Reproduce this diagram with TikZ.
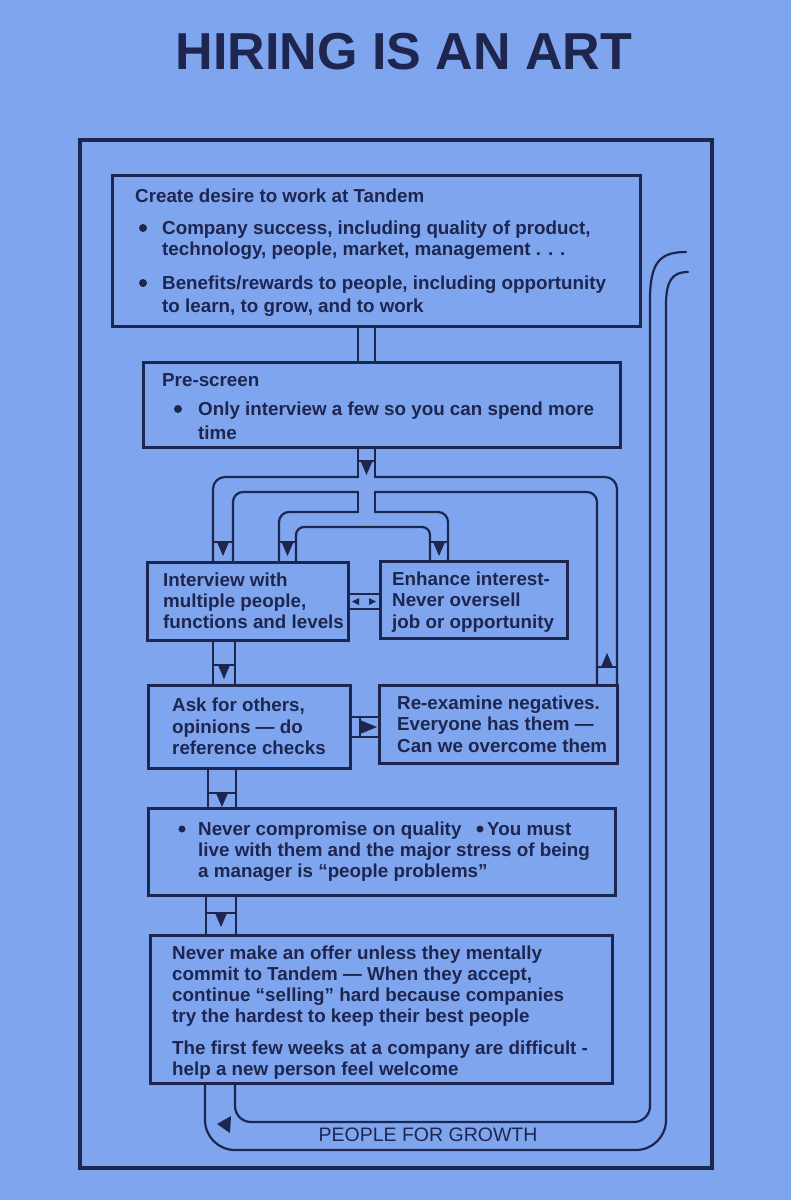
\documentclass[tikz,border=0pt]{standalone}
\usepackage{fontspec}
\newfontfamily\bodyfont{Liberation Sans}
\definecolor{bgc}{RGB}{126,165,238}
\definecolor{inkc}{RGB}{30,38,80}
\tikzset{
  box/.style={draw=inkc, line width=3pt, inner sep=0pt, outer sep=0pt, anchor=north west},
  pipe/.style={draw=inkc, line width=2.2pt, line cap=round},
  txt/.style={text=inkc, font=\bodyfont\bfseries\fontsize{18.8}{21}\selectfont, anchor=base west, inner sep=0pt},
}
\newcommand\pipearrowdown[3]{%
  \draw[pipe] (#1,#3) -- (#2,#3);
  \fill[inkc] ({(#1+#2)/2-6},#3) -- ({(#1+#2)/2+6},#3) -- ({(#1+#2)/2},{#3+14}) -- cycle;}
\newcommand\pipearrowup[3]{%
  \draw[pipe] (#1,#3) -- (#2,#3);
  \fill[inkc] ({(#1+#2)/2-6},#3) -- ({(#1+#2)/2+6},#3) -- ({(#1+#2)/2},{#3-14}) -- cycle;}
\begin{document}
\begin{tikzpicture}[x=1pt,y=-1pt]
\fill[bgc] (0,0) rectangle (791,1200);
\useasboundingbox (0,0) rectangle (791,1200);

% title
\node[text=inkc, font=\bodyfont\bfseries\fontsize{52}{52}\selectfont, anchor=base, inner sep=0pt] (title) at (404,69) {HIRING IS AN ART};

% frame
\node[box, line width=3.2pt, minimum width=632pt, minimum height=1028pt] (frame) at (80,140) {};

% boxes
\node[box, minimum width=528pt, minimum height=151pt] (b1) at (112,175) {};
\node[box, minimum width=477pt, minimum height=85pt] (b2) at (143,362) {};
\node[box, minimum width=201pt, minimum height=78pt] (b3) at (147,562) {};
\node[box, minimum width=187pt, minimum height=77pt] (b4) at (380,561) {};
\node[box, minimum width=202pt, minimum height=83pt] (b5) at (148,685) {};
\node[box, minimum width=238pt, minimum height=78pt] (b6) at (379,685) {};
\node[box, minimum width=467pt, minimum height=87pt] (b7) at (148,808) {};
\node[box, minimum width=462pt, minimum height=148pt] (b8) at (150,935) {};

% texts b1
\node[txt] (l11) at (135,202) {Create desire to work at Tandem};
\fill[inkc] (143,228) circle (4pt);
\node[txt] (l12) at (162,234) {Company success, including quality of product,};
\node[txt] (l13) at (162,255) {technology, people, market, management . . .};
\fill[inkc] (143,283) circle (4pt);
\node[txt] (l14) at (162,289) {Benefits/rewards to people, including opportunity};
\node[txt] (l15) at (162,312) {to learn, to grow, and to work};
% b2
\node[txt] (l21) at (162,386) {Pre-screen};
\fill[inkc] (178,409) circle (4pt);
\node[txt] (l22) at (198,415) {Only interview a few so you can spend more};
\node[txt] (l23) at (198,439) {time};
% b3
\node[txt] (l31) at (163,586) {Interview with};
\node[txt] (l32) at (163,607) {multiple people,};
\node[txt] (l33) at (163,628) {functions and levels};
% b4
\node[txt] (l41) at (392,585) {Enhance interest-};
\node[txt] (l42) at (392,606) {Never oversell};
\node[txt] (l43) at (392,628) {job or opportunity};
% b5
\node[txt] (l51) at (172,711) {Ask for others,};
\node[txt] (l52) at (172,733) {opinions — do};
\node[txt] (l53) at (172,754) {reference checks};
% b6
\node[txt] (l61) at (397,709) {Re-examine negatives.};
\node[txt] (l62) at (397,730) {Everyone has them —};
\node[txt] (l63) at (397,752) {Can we overcome them};
% b7
\fill[inkc] (182,829) circle (3.5pt);
\node[txt] (l71) at (198,835) {Never compromise on quality};
\fill[inkc] (480,829) circle (3.5pt);
\node[txt] (l72) at (487,835) {You must};
\node[txt] (l73) at (198,856) {live with them and the major stress of being};
\node[txt] (l74) at (198,877) {a manager is “people problems”};
% b8
\node[txt] (l81) at (172,959) {Never make an offer unless they mentally};
\node[txt] (l82) at (172,980) {commit to Tandem — When they accept,};
\node[txt] (l83) at (172,1001) {continue “selling” hard because companies};
\node[txt] (l84) at (172,1022) {try the hardest to keep their best people};
\node[txt] (l85) at (172,1054) {The first few weeks at a company are difficult -};
\node[txt] (l86) at (172,1075) {help a new person feel welcome};

% b1 -> b2
\draw[pipe] (b1.south -| 358,0) -- (b2.north -| 358,0);
\draw[pipe] (b1.south -| 375,0) -- (b2.north -| 375,0);

% branches from b2
\draw[pipe] (b2.south -| 358,0) -- (358,477);
\draw[pipe, rounded corners=12pt] (358,477) -- (213,477) -- (b3.north -| 213,0);
\draw[pipe, rounded corners=10pt] (b3.north -| 233,0) -- (233,492) -- (358,492);
\draw[pipe] (358,492) -- (358,512);
\draw[pipe, rounded corners=10pt] (358,512) -- (279,512) -- (b3.north -| 279,0);
\draw[pipe, rounded corners=8pt] (b3.north -| 296,0) -- (296,527) -- (430,527) -- (b4.north -| 430,0);
\draw[pipe] (b2.south -| 375,0) -- (375,477);
\draw[pipe, rounded corners=12pt] (375,477) -- (617,477) -- (b6.north -| 617,0);
\draw[pipe, rounded corners=10pt] (b6.north -| 597,0) -- (597,492) -- (375,492);
\draw[pipe] (375,492) -- (375,512);
\draw[pipe, rounded corners=10pt] (375,512) -- (448,512) -- (b4.north -| 448,0);

\pipearrowdown{358}{375}{461}
\pipearrowdown{213}{233}{542}
\pipearrowdown{279}{296}{542}
\pipearrowdown{430}{448}{542}
\pipearrowup{597}{617}{667}

% b3 <-> b4
\draw[pipe] (b3.east |- 0,594) -- (b4.west |- 0,594);
\draw[pipe] (b3.east |- 0,609) -- (b4.west |- 0,609);
\fill[inkc] (352,601.5) -- (359,598) -- (359,605) -- cycle;
\fill[inkc] (376,601.5) -- (369,598) -- (369,605) -- cycle;

% b5 -> b6
\draw[pipe] (b5.east |- 0,717) -- (b6.west |- 0,717);
\draw[pipe] (b5.east |- 0,737) -- (b6.west |- 0,737);
\draw[pipe] (360,717) -- (360,737);
\fill[inkc] (360,720) -- (360,734) -- (377,727) -- cycle;

% vertical chain
\draw[pipe] (b3.south -| 213,0) -- (b5.north -| 213,0);
\draw[pipe] (b3.south -| 235,0) -- (b5.north -| 235,0);
\pipearrowdown{213}{235}{665}
\draw[pipe] (b5.south -| 208,0) -- (b7.north -| 208,0);
\draw[pipe] (b5.south -| 236,0) -- (b7.north -| 236,0);
\pipearrowdown{208}{236}{793}
\draw[pipe] (b7.south -| 206,0) -- (b8.north -| 206,0);
\draw[pipe] (b7.south -| 236,0) -- (b8.north -| 236,0);
\pipearrowdown{206}{236}{913}

% return loop
\draw[pipe, rounded corners=16pt] (b8.south -| 235,0) -- (235,1122) -- (650,1122) -- (650,300);
\draw[pipe] (650,300) .. controls (650,262) and (660,252) .. (686,252);
\draw[pipe, rounded corners=30pt] (b8.south -| 205,0) -- (205,1150) -- (666,1150) -- (666,305);
\draw[pipe] (666,305) .. controls (666,281) and (672,272) .. (688,272);
\fill[inkc] (217,1124) -- (231,1116) -- (230,1133) -- cycle;
\node[text=inkc, font=\bodyfont\fontsize{19.5}{21}\selectfont, anchor=base, inner sep=0pt] (pfg) at (428,1141) {PEOPLE FOR GROWTH};
\end{tikzpicture}
\end{document}
